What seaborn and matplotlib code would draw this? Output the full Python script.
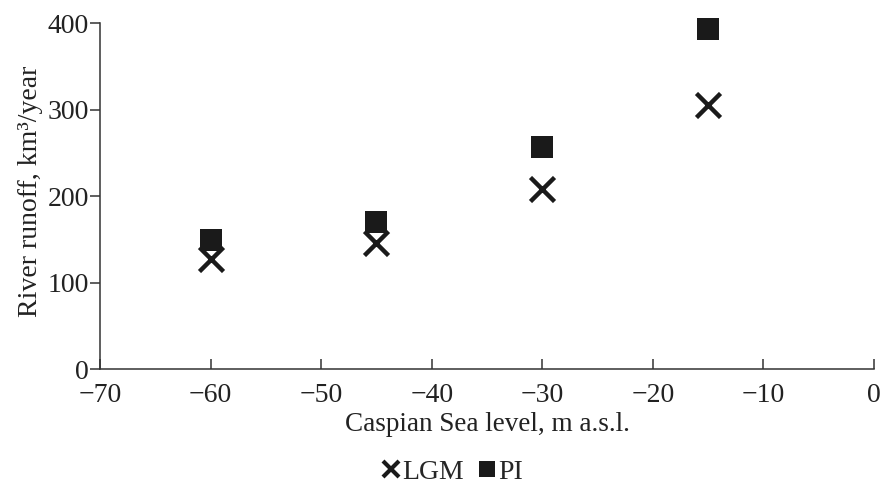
import matplotlib
matplotlib.use("Agg")
import matplotlib.pyplot as plt
from matplotlib.lines import Line2D
import seaborn as sns
import pandas as pd

sea_level = [-60, -45, -30, -15]
lgm_runoff = [127, 146, 208, 305]
pi_runoff = [149, 170, 257, 393]
x_ticks = [-70, -60, -50, -40, -30, -20, -10, 0]
y_ticks = [0, 100, 200, 300, 400]
series_labels = ["LGM", "PI"]

sns.set_theme(style="white")
plt.rcParams['font.family'] = ['Liberation Serif', 'DejaVu Serif']
plt.rcParams['axes.unicode_minus'] = True

df_lgm = pd.DataFrame({"level": sea_level, "runoff": lgm_runoff})
df_pi = pd.DataFrame({"level": sea_level, "runoff": pi_runoff})

fig = plt.figure(figsize=(8.81, 4.83), dpi=100)
ax = fig.add_axes([0.1135, 0.236, 0.8785, 0.716])

ink = "#1a1a1a"
sns.scatterplot(data=df_lgm, x="level", y="runoff", marker="x", s=300,
                color=ink, linewidth=3.2, ax=ax, zorder=3, clip_on=False)
sns.scatterplot(data=df_pi, x="level", y="runoff", marker="s", s=250,
                color=ink, edgecolor="none", ax=ax, zorder=4, clip_on=False)

ax.set_xlim(-70, 0)
ax.set_ylim(0, 400)
ax.set_xticks(x_ticks)
ax.set_yticks(y_ticks)
ax.set_xlabel("Caspian Sea level, m a.s.l.", fontsize=19.5, color="#222222", labelpad=3)
ax.set_ylabel("River runoff, km³/year", fontsize=20, color="#222222")
ax.yaxis.set_label_coords(-0.073, 0.515)

for side in ["top", "right"]:
    ax.spines[side].set_visible(False)
for side in ["left", "bottom"]:
    ax.spines[side].set_color("#333333")
    ax.spines[side].set_linewidth(1.1)

ax.tick_params(axis="x", direction="in", length=7, width=1.1, color="#333333",
               labelsize=20, labelcolor="#222222", pad=10, bottom=True)
ax.tick_params(axis="y", direction="out", length=7, width=1.1, color="#333333",
               labelsize=20, labelcolor="#222222", pad=1, left=True)

handles = [
    Line2D([], [], linestyle="none", marker="x", markersize=11.5,
           markeredgewidth=3, color=ink),
    Line2D([], [], linestyle="none", marker="s", markersize=12,
           markeredgewidth=0, color=ink),
]
fig.legend(handles, series_labels, loc="center", bbox_to_anchor=(452 / 881, 1 - 472 / 483),
           ncol=2, frameon=False, fontsize=20, handletextpad=0.05,
           columnspacing=0.5, handlelength=0.7, borderpad=0)

fig.savefig("out.png", dpi=100)
